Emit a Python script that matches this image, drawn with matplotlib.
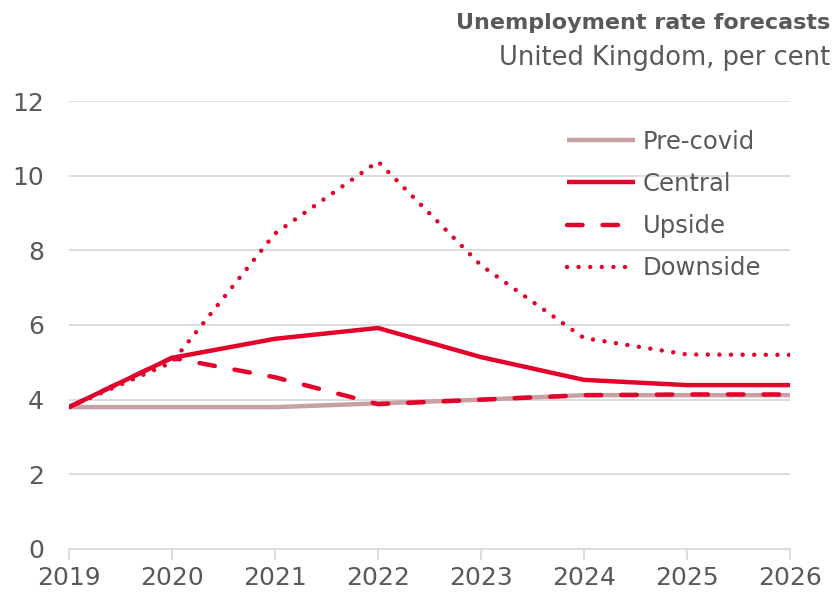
import matplotlib
matplotlib.use("Agg")
import matplotlib.pyplot as plt

years = [2019, 2020, 2021, 2022, 2023, 2024, 2025, 2026]
pre_covid = [3.8, 3.8, 3.8, 3.9, 4.0, 4.12, 4.12, 4.12]
central = [3.8, 5.12, 5.63, 5.92, 5.14, 4.53, 4.39, 4.39]
upside = [3.8, 5.12, 4.6, 3.88, 4.0, 4.12, 4.14, 4.14]
downside = [3.8, 5.0, 8.45, 10.38, 7.6, 5.65, 5.21, 5.2]

RED = "#E4002B"
PINK = "#C9A0A4"
TEXT = "#595959"
GRID = "#D9D9D9"

plt.rcParams["font.family"] = ["DejaVu Sans"]

fig = plt.figure(figsize=(8.34, 5.96), dpi=100)
ax = fig.add_axes([0.0827, 0.0789, 0.8645, 0.7516])

ax.plot(years, pre_covid, color=PINK, lw=3.2, label="Pre-covid", solid_capstyle="butt")
ax.plot(years, central, color=RED, lw=3.2, label="Central", solid_capstyle="butt")
ax.plot(years, upside, color=RED, lw=3.2, label="Upside", dashes=(3.5, 4.5), dash_capstyle="round")
ax.plot(years, downside, color=RED, lw=3.2, label="Downside", dashes=(0.01, 2.6), dash_capstyle="round")

ax.set_xlim(2019, 2026)
ax.set_ylim(0, 12)
ax.set_yticks(range(0, 13, 2))
ax.set_xticks(years)

for y in range(2, 13, 2):
    ax.axhline(y, color=GRID, lw=1.3, zorder=0)

for s in ["top", "right", "left"]:
    ax.spines[s].set_visible(False)
ax.spines["bottom"].set_color(GRID)
ax.spines["bottom"].set_linewidth(1.3)

ax.tick_params(axis="y", length=0, pad=18, labelsize=18, labelcolor=TEXT)
ax.tick_params(axis="x", length=8, width=1.3, color=GRID, pad=4, labelsize=18, labelcolor=TEXT)

leg = ax.legend(loc="upper left", bbox_to_anchor=(0.66, 0.985), frameon=False,
                handlelength=2.8, handletextpad=0.32, labelspacing=0.75, fontsize=17.5)
for t in leg.get_texts():
    t.set_color(TEXT)

fig.text(0.995, 0.962, "Unemployment rate forecasts", ha="right", va="center",
         fontsize=16, fontweight="bold", color=TEXT)
fig.text(0.995, 0.903, "United Kingdom, per cent", ha="right", va="center",
         fontsize=18.5, color=TEXT)

fig.savefig("out.png", dpi=100)
